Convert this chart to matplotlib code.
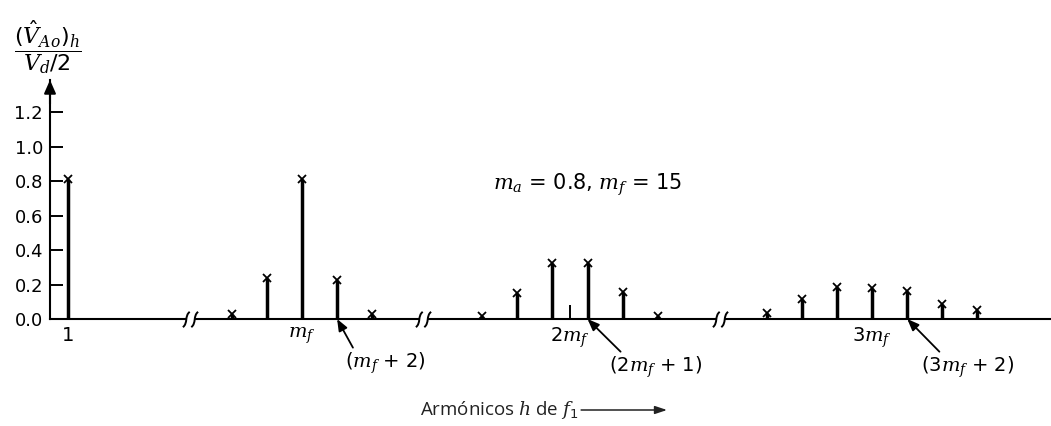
import matplotlib.pyplot as plt
import numpy as np
from matplotlib.path import Path

plt.rcParams['font.family'] = ['DejaVu Sans']
plt.rcParams['mathtext.fontset'] = 'custom'
plt.rcParams['mathtext.rm'] = 'DejaVu Sans'
plt.rcParams['mathtext.it'] = 'DejaVu Serif:italic'
plt.rcParams['mathtext.bf'] = 'DejaVu Sans:bold'

# harmonic amplitudes (V_Ao)_h / (Vd/2), ma = 0.8, mf = 15
h_fund = [1]
a_fund = [0.81]
h_g1 = [11, 13, 15, 17, 19]
a_g1 = [0.03, 0.24, 0.81, 0.225, 0.03]
h_g2 = [25, 27, 29, 31, 33, 35]
a_g2 = [0.02, 0.15, 0.325, 0.325, 0.155, 0.02]
h_g3 = [39, 41, 43, 45, 47, 49, 51]
a_g3 = [0.035, 0.115, 0.185, 0.18, 0.16, 0.085, 0.05]

y_ticks = [0.0, 0.2, 0.4, 0.6, 0.8, 1.0, 1.2]
x_tick_h = [1, 15, 30, 45]
x_tick_labels = ['1', r'$m_f$', r'$2m_f$', r'$3m_f$']

# broken axis: each group gets its own shift along x
shifts = [0.67, 0.0, 0.27, 2.49]
breaks = [8.62, 21.89, 38.82]


def xpos(h, grp):
    return np.asarray(h, dtype=float) + shifts[grp]


fig = plt.figure(figsize=(10.51, 4.26), dpi=100)
ax = fig.add_axes([50 / 1051, 107 / 426, 1001 / 1051, 239 / 426])

groups = [(h_fund, a_fund), (h_g1, a_g1), (h_g2, a_g2), (h_g3, a_g3)]
for i, (hs, amps) in enumerate(groups):
    xs = xpos(hs, i)
    ax.vlines(xs, 0, amps, color='k', lw=2.5, zorder=3)
    ax.plot(xs, amps, 'x', color='k', ms=5.5, mew=1.3, zorder=4)

ax.set_xlim(0.64, 57.68)
ax.set_ylim(0, 1.386)

for s in ['top', 'right']:
    ax.spines[s].set_visible(False)
for s in ['left', 'bottom']:
    ax.spines[s].set_linewidth(1.5)

ax.set_yticks(y_ticks)
ax.set_yticklabels(['%.1f' % v for v in y_ticks])
tick_x = [xpos(h, g) for h, g in zip(x_tick_h, [0, 1, 2, 3])]
ax.set_xticks(tick_x)
ax.set_xticklabels(x_tick_labels)
ax.tick_params(axis='y', direction='in', length=9, width=1.4, pad=5, labelsize=13)
ax.tick_params(axis='x', direction='in', length=10, width=1.4, pad=5, labelsize=14)

# arrow at top of y axis
ax.annotate('', xy=(0, 1), xycoords='axes fraction', xytext=(0, 0.9),
            arrowprops=dict(arrowstyle='-|>,head_length=0.5,head_width=0.22',
                            mutation_scale=16, lw=1.5, color='k',
                            shrinkA=0, shrinkB=0))

# break marks on the x axis
brk = Path([(-0.5, -0.5), (-0.15, -0.25), (-0.4, 0.25), (-0.05, 0.5),
            (0.05, -0.5), (0.4, -0.25), (0.15, 0.25), (0.5, 0.5)],
           [Path.MOVETO, Path.CURVE4, Path.CURVE4, Path.CURVE4,
            Path.MOVETO, Path.CURVE4, Path.CURVE4, Path.CURVE4])
for b in breaks:
    ax.plot(b, 0, marker='s', ms=6, color='white', mec='none', zorder=5, clip_on=False)
    ax.plot(b, 0, marker=brk, ms=11, color='k', mfc='none', mew=1.4, zorder=6, clip_on=False)

# labelled arrows
notes = [
    (17, 1, r'($m_f$ + 2)', (34.6, -31.7), 0.12),
    (31, 2, r'($2m_f$ + 1)', (49.3, -34.6), 0.15),
    (47, 3, r'($3m_f$ + 2)', (43.2, -34.6), 0.23),
]
for h, g, txt, off, rx in notes:
    ax.annotate(txt, xy=(xpos(h, g), 0), xytext=off, textcoords='offset points',
                ha='center', va='center', fontsize=14,
                arrowprops=dict(arrowstyle='-|>,head_length=0.5,head_width=0.2',
                                mutation_scale=14, lw=1.3, color='k',
                                relpos=(rx, 1.0), shrinkA=0, shrinkB=0))

fig.text(587 / 1051, 1 - 185 / 426, r'$m_a$ = 0.8, $m_f$ = 15',
         ha='center', va='center', fontsize=15)

fig.text(48 / 1051, 1 - 47 / 426, r'$\dfrac{(\hat{V}_{Ao})_h}{V_d/2}$',
         ha='center', va='center', fontsize=16)

ax.annotate(r'Armónicos $h$ de $f_1$', xy=(667 / 1051, 1 - 410 / 426),
            xycoords='figure fraction', xytext=(420 / 1051, 1 - 410 / 426),
            textcoords='figure fraction', ha='left', va='center',
            family='Open Sans', fontsize=13.5, color='#222222',
            arrowprops=dict(arrowstyle='-|>,head_length=0.6,head_width=0.2',
                            mutation_scale=12, lw=1.1, color='#222222',
                            relpos=(1, 0.5), shrinkA=0, shrinkB=0))

fig.savefig('out.png', dpi=100)
